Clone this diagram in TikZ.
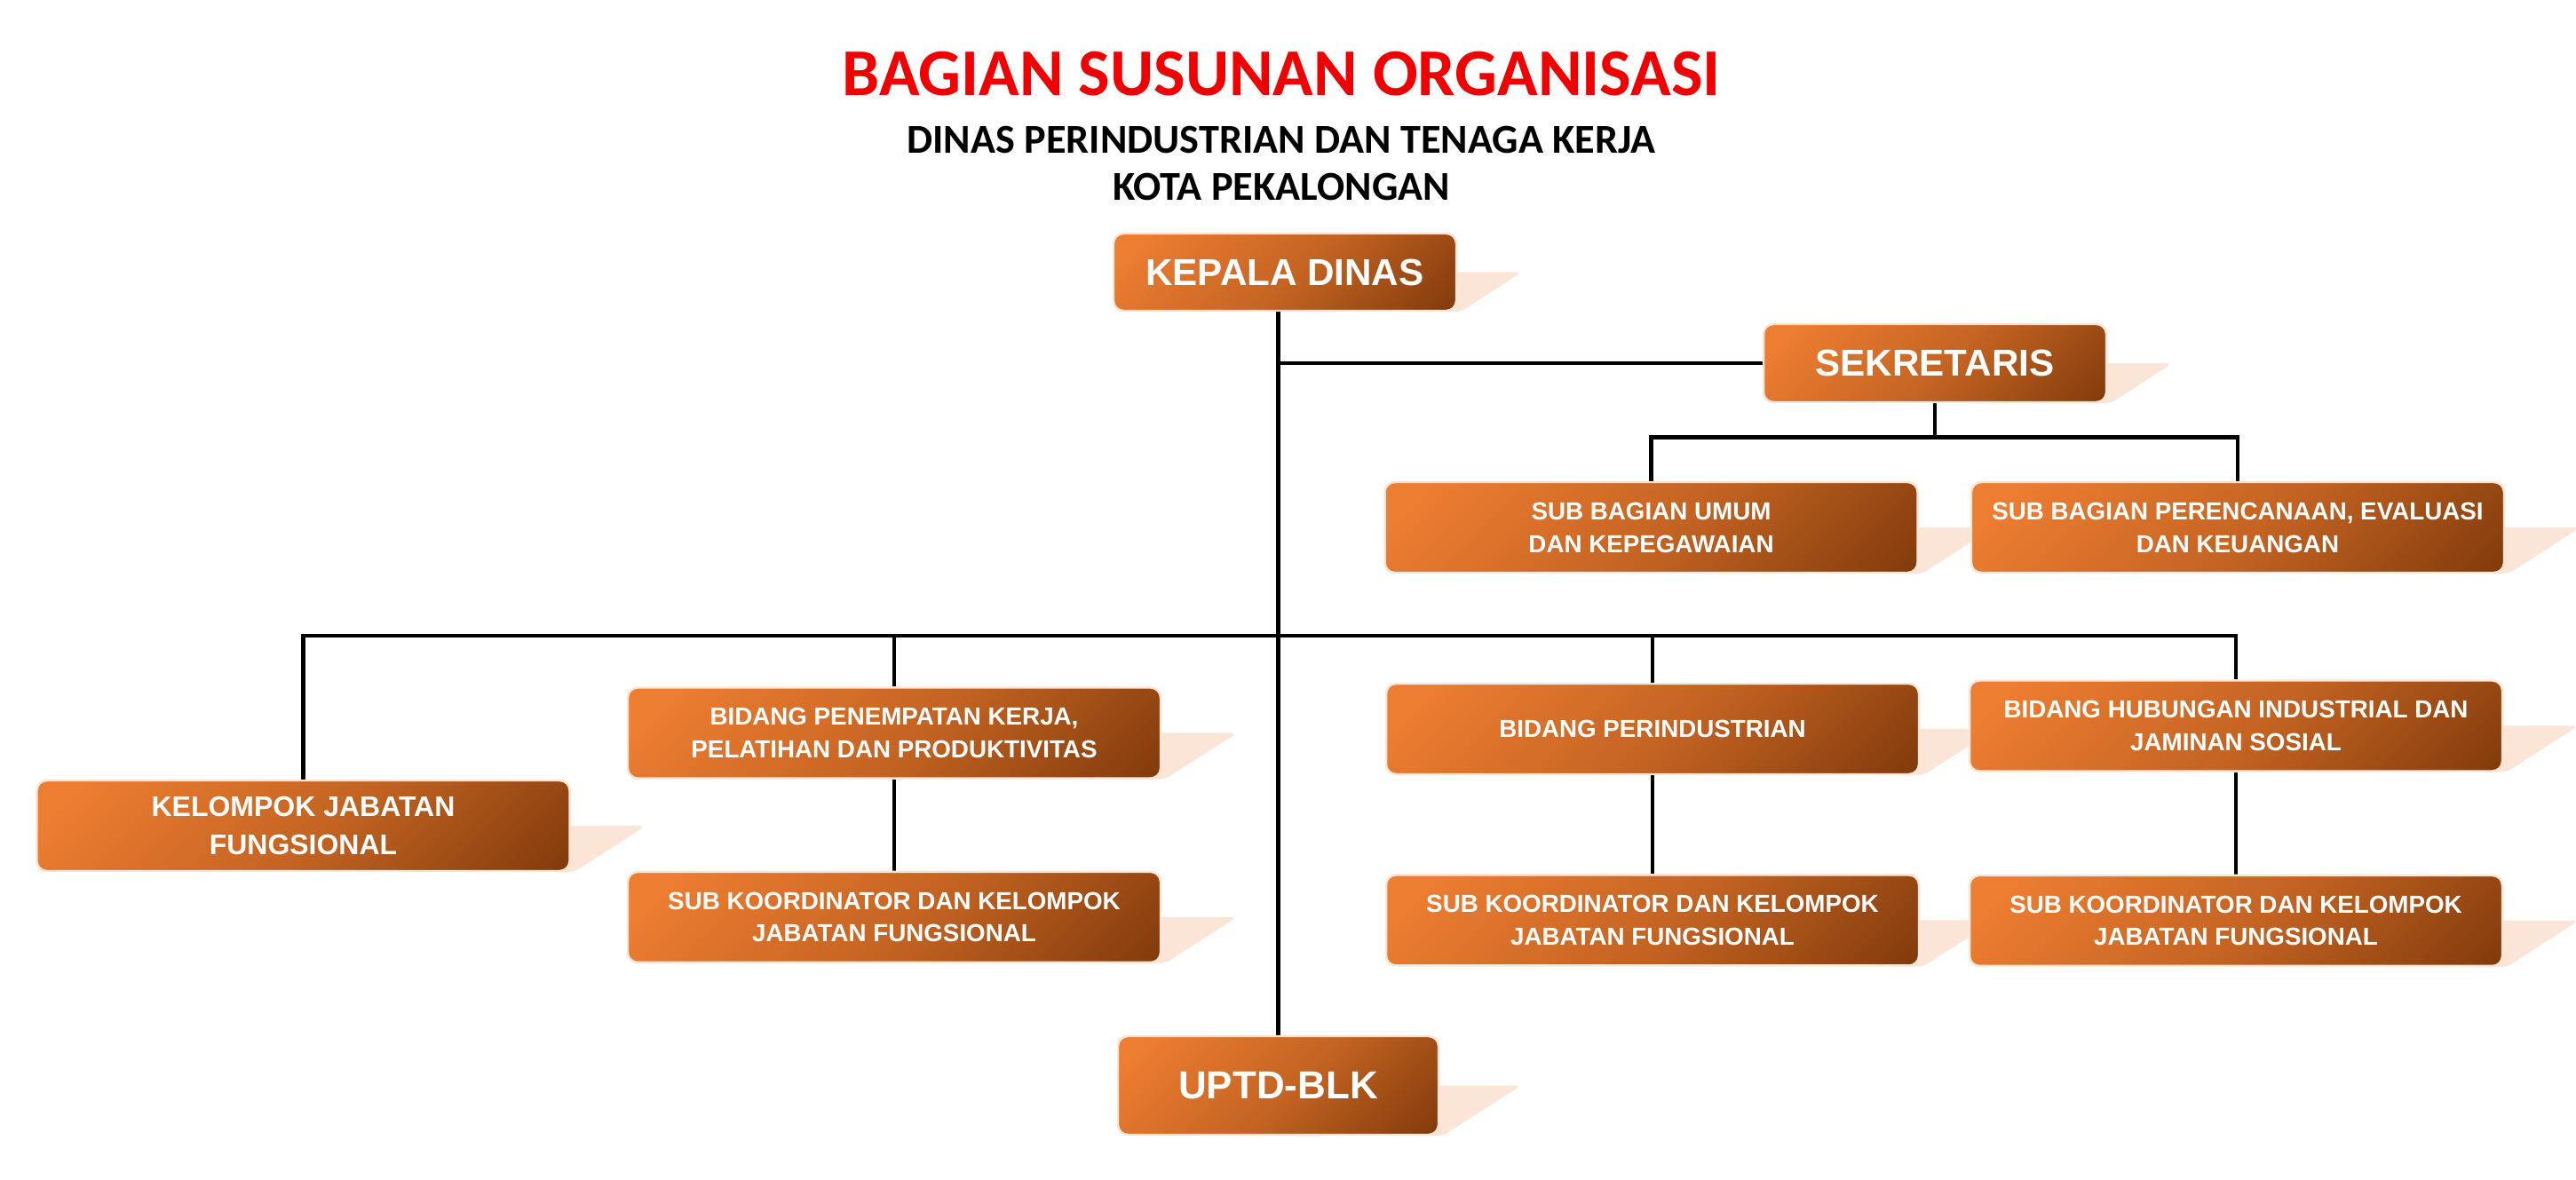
\documentclass[tikz,border=0pt]{standalone}
\usepackage{fontspec}
\setmainfont{Liberation Sans}
\newfontfamily\titlefont{Carlito}
\usetikzlibrary{positioning, calc, backgrounds}

\definecolor{boxlight}{HTML}{ED7D31}
\definecolor{boxdark}{HTML}{843C0C}
\colorlet{boxmid}{boxlight!60!boxdark}
\definecolor{shadowpeach}{HTML}{FBE5D6}
\definecolor{titlered}{HTML}{F00000}

\pgfdeclareverticalshading{unitgrad}{100bp}{color(0bp)=(boxdark); color(16bp)=(boxdark);
  color(47bp)=(boxmid); color(80bp)=(boxlight); color(100bp)=(boxlight)}

\begin{document}
\begin{tikzpicture}[
  unit/.style={rounded corners=3.2pt, draw=shadowpeach, line width=0.7pt,
               shade, shading=unitgrad, shading angle=45,
               text=white, align=center, inner sep=0pt,
               minimum width=6cm, minimum height=1.02cm,
               font=\bfseries\fontsize{7.9}{10.5}\selectfont},
  head/.style={unit, minimum width=3.86cm, minimum height=0.87cm,
               font=\bfseries\fontsize{12}{14}\selectfont},
  link/.style={draw=black, line width=1.3pt},
  shadowfill/.style={fill=shadowpeach, rounded corners=2pt},
  heading/.style={font=\titlefont\bfseries, inner sep=0pt, align=center},
]
\useasboundingbox (0,0) rectangle (29.01,-13.29);

% === Title ===
\node[heading, text=titlered, font=\titlefont\bfseries\fontsize{21.4}{25}\selectfont]
  (title) at (14.43,-0.835) {BAGIAN SUSUNAN ORGANISASI};
\node[heading, font=\titlefont\bfseries\fontsize{13.15}{15.3}\selectfont, below=0.32cm of title]
  (subtitle) {DINAS PERINDUSTRIAN DAN TENAGA KERJA\\KOTA PEKALONGAN};

% === Top level ===
\node[head] (kd) at (14.47,-3.065) {KEPALA DINAS};
\node[head, minimum height=0.88cm] (sek) at (21.79,-4.09) {SEKRETARIS};

\node[unit] (sbu) at (18.595,-5.94) {SUB BAGIAN UMUM\\DAN KEPEGAWAIAN};
\node[unit, right=0.58cm of sbu] (sbp) {SUB BAGIAN PERENCANAAN, EVALUASI\\DAN KEUANGAN};

% === Bidang ===
\node[unit, font=\bfseries\fontsize{9.1}{12.3}\selectfont] (kjf) at (3.415,-9.30)
  {KELOMPOK JABATAN\\FUNGSIONAL};
\node[unit] (bpk) at (10.07,-8.255) {BIDANG PENEMPATAN KERJA,\\PELATIHAN DAN PRODUKTIVITAS};
\node[unit] (bpi) at (18.61,-8.21) {BIDANG PERINDUSTRIAN};
\node[unit] (bhi) at (25.18,-8.175) {BIDANG HUBUNGAN INDUSTRIAL DAN\\JAMINAN SOSIAL};

\node[unit, below=1.03cm of bpk] (sk1) {SUB KOORDINATOR DAN KELOMPOK\\JABATAN FUNGSIONAL};
\node[unit, below=1.11cm of bpi] (sk2) {SUB KOORDINATOR DAN KELOMPOK\\JABATAN FUNGSIONAL};
\node[unit, below=1.15cm of bhi] (sk3) {SUB KOORDINATOR DAN KELOMPOK\\JABATAN FUNGSIONAL};

\node[head, minimum width=3.61cm, minimum height=1.11cm,
      font=\bfseries\fontsize{12.5}{14}\selectfont] (uptd) at (14.395,-12.225) {UPTD-BLK};

% === Connectors and shadows (background layer) ===
\begin{pgfonlayer}{background}
  \foreach \nm in {kd,sek,sbu,sbp,kjf,bpk,sk1,bpi,sk2,bhi,sk3,uptd}
    \fill[shadowfill] let \p1=(\nm.north east), \p2=(\nm.south east) in
      ({\x2-0.3cm},{0.5*\y1+0.5*\y2}) -- ({\x2+0.81*\y1-0.81*\y2},{0.5*\y1+0.5*\y2})
      -- ({\x2+1pt},\y2) -- ({\x2-0.3cm},\y2) -- cycle;

  % trunk
  \draw[link] (kd.south -| uptd.north) -- (uptd.north);
  \draw[link] (sek.west) -- (sek.west -| uptd.north);

  % sekretariat
  \coordinate (subbus) at ($(sek.south)+(0,-0.38)$);
  \draw[link] (sek.south) -- (subbus);
  \draw[link] (sbu.north) |- (subbus) -| (sbp.north);

  % bidang
  \coordinate (bus) at (0,-7.16);
  \draw[link] (kjf.north) |- (bus -| bhi.north) -- (bhi.north);
  \foreach \nm in {bpk,bpi}
    \draw[link] (\nm.north) -- (\nm.north |- bus);
  \draw[link] (bpk.south) -- (sk1.north);
  \draw[link] (bpi.south) -- (sk2.north);
  \draw[link] (bhi.south) -- (sk3.north);
\end{pgfonlayer}

\end{tikzpicture}
\end{document}
